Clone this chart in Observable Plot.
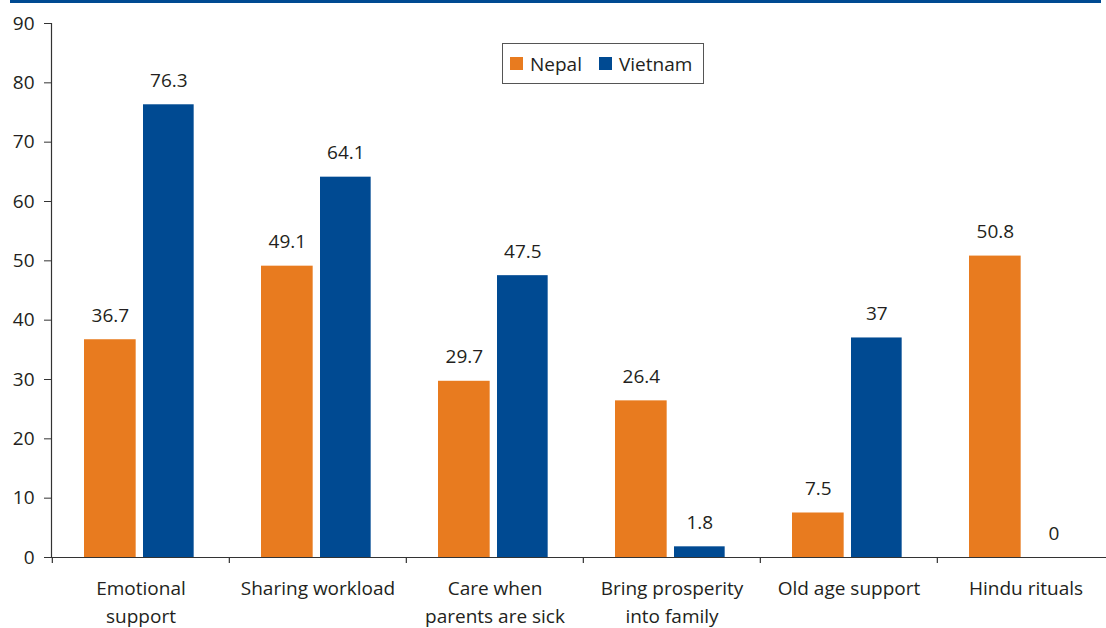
<!DOCTYPE html>
<html>
<head>
<meta charset="utf-8">
<script src="https://cdn.jsdelivr.net/npm/d3@7"></script>
<script src="https://cdn.jsdelivr.net/npm/@observablehq/plot@0.6"></script>
<style>
  html, body { margin: 0; padding: 0; background: #fff; }
  #wrap { position: relative; width: 1106px; height: 628px; overflow: hidden; font-family: "Open Sans", sans-serif; color: #231f20; }
  #topbar { position: absolute; left: 10px; top: 0; width: 1091px; height: 3px; background: #004a92; }
  #legend { position: absolute; left: 502px; top: 43px; width: 200px; height: 39px; border: 1px solid #555; display: flex; align-items: center; font-size: 19px; box-sizing: content-box; }
  #legend .item { display: flex; align-items: center; }
  #legend .sw { width: 13px; height: 13px; display: inline-block; }
</style>
</head>
<body>
<div id="wrap">
  <div id="chart"></div>
  <div id="topbar"></div>
  <div id="legend"></div>
</div>
<script>
const categories = ["Emotional support", "Sharing workload", "Care when parents are sick", "Bring prosperity into family", "Old age support", "Hindu rituals"];
const tickLabels = ["Emotional\nsupport", "Sharing workload", "Care when\nparents are sick", "Bring prosperity\ninto family", "Old age support", "Hindu rituals"];
const series = ["Nepal", "Vietnam"];
const nepal = [36.7, 49.1, 29.7, 26.4, 7.5, 50.8];
const vietnam = [76.3, 64.1, 47.5, 1.8, 37, 0];
const colors = ["#e87b1f", "#004a92"];
const yTicks = [0, 10, 20, 30, 40, 50, 60, 70, 80, 90];

const nepalData = categories.map((c, i) => ({category: c, series: series[0], value: nepal[i]}));
const vietData = categories.map((c, i) => ({category: c, series: series[1], value: vietnam[i]}));

const W = 1106, H = 628;
const xRange = [51, 1115];
const bw = (xRange[1] - xRange[0]) / categories.length;
const ink = "#231f20";
const axisInk = "#333";

const chart = Plot.plot({
  width: W,
  height: H,
  marginLeft: 51,
  marginRight: 0,
  marginTop: 23,
  marginBottom: 71,
  style: {fontFamily: "'Open Sans', sans-serif", fontSize: "19px", color: ink, background: "#fff"},
  x: {domain: categories, range: xRange, padding: 0},
  y: {domain: [0, 90]},
  marks: [
    Plot.barY(nepalData, {x: "category", y: "value", fill: colors[0], insetLeft: 32, insetRight: bw - 84}),
    Plot.barY(vietData, {x: "category", y: "value", fill: colors[1], insetLeft: 91, insetRight: bw - 142}),
    Plot.text(nepalData, {x: "category", y: "value", text: d => String(d.value), dx: 58 - bw / 2, dy: -24, fill: ink, fontSize: 19}),
    Plot.text(vietData, {x: "category", y: "value", text: d => String(d.value), dx: 116.5 - bw / 2, dy: -24, fill: ink, fontSize: 19}),
    Plot.ruleY([0], {stroke: axisInk, strokeWidth: 1.2}),
    Plot.ruleX(categories, {x: d => d, dx: -bw / 2, y1: 0, y2: 0, insetBottom: -6, stroke: axisInk, strokeWidth: 1.2}),
    Plot.frame({anchor: "left", stroke: axisInk, strokeWidth: 1.2}),
    Plot.axisY(yTicks, {tickSize: 7, tickPadding: 10, stroke: axisInk, fill: ink, fontSize: 19, label: null}),
    Plot.axisX({tickSize: 0, tickPadding: 17, fill: ink, fontSize: 19, label: null, lineHeight: 1.5,
      tickFormat: d => tickLabels[categories.indexOf(d)]})
  ]
});
document.getElementById("chart").appendChild(chart);

const legend = document.getElementById("legend");
series.forEach((s, i) => {
  const item = document.createElement("div");
  item.className = "item";
  item.style.marginLeft = i === 0 ? "7px" : "17px";
  const sw = document.createElement("span");
  sw.className = "sw";
  sw.style.background = colors[i];
  const t = document.createElement("span");
  t.textContent = s;
  t.style.marginLeft = "7px";
  item.appendChild(sw);
  item.appendChild(t);
  legend.appendChild(item);
});
</script>
</body>
</html>
